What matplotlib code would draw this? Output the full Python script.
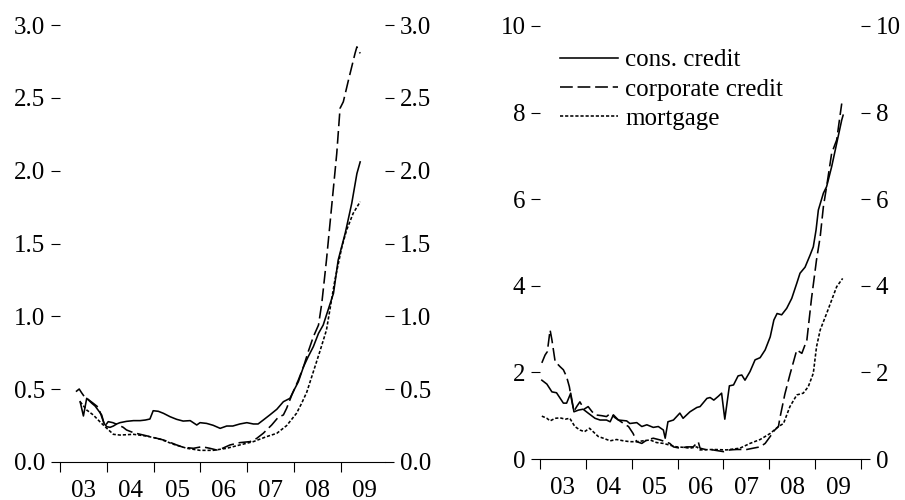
import numpy as np
import matplotlib
matplotlib.use("Agg")
import matplotlib.pyplot as plt
from matplotlib.ticker import FixedLocator, FixedFormatter

plt.rcParams['font.family'] = ['Liberation Serif', 'DejaVu Serif']
plt.rcParams['font.size'] = 18

# ---- left panel (fractional years, values) ----
cons_l_t = [2003.43, 2003.50, 2003.57, 2003.68, 2003.75, 2003.89, 2003.94, 2004.00, 2004.07, 2004.14,
            2004.21, 2004.28, 2004.42, 2004.57, 2004.71, 2004.82, 2004.92, 2004.99, 2005.10, 2005.21,
            2005.35, 2005.49, 2005.63, 2005.78, 2005.92, 2005.99, 2006.13, 2006.27, 2006.42, 2006.56,
            2006.69, 2006.84, 2006.99, 2007.13, 2007.23, 2007.34, 2007.48, 2007.63, 2007.77, 2007.91,
            2007.98, 2008.09, 2008.20, 2008.30, 2008.41, 2008.52, 2008.62, 2008.84, 2008.94, 2009.09,
            2009.23, 2009.34, 2009.41]
cons_l_v = [0.414, 0.316, 0.437, 0.403, 0.384, 0.323, 0.265, 0.242, 0.238, 0.247,
            0.261, 0.270, 0.279, 0.284, 0.284, 0.288, 0.295, 0.352, 0.348, 0.334,
            0.311, 0.293, 0.281, 0.284, 0.254, 0.270, 0.265, 0.252, 0.231, 0.247,
            0.247, 0.261, 0.270, 0.261, 0.261, 0.288, 0.323, 0.362, 0.414, 0.437,
            0.483, 0.551, 0.654, 0.723, 0.792, 0.883, 0.940, 1.158, 1.386, 1.570,
            1.776, 1.980, 2.060]

corp_l_t = [2003.34, 2003.41, 2003.46, 2003.53, 2003.60, 2003.71, 2003.82, 2003.89, 2003.96, 2004.03,
            2004.13, 2004.24, 2004.35, 2004.42, 2004.57, 2004.78, 2004.99, 2005.21, 2005.35, 2005.49,
            2005.63, 2005.85, 2006.03, 2006.20, 2006.35, 2006.42, 2006.63, 2006.84, 2007.06, 2007.20,
            2007.34, 2007.52, 2007.66, 2007.77, 2007.84, 2007.95, 2008.09, 2008.20, 2008.30, 2008.41,
            2008.52, 2008.59, 2008.69, 2008.80, 2008.91, 2008.98, 2009.05, 2009.16, 2009.30, 2009.34,
            2009.41]
corp_l_v = [0.483, 0.501, 0.476, 0.444, 0.430, 0.403, 0.375, 0.311, 0.247, 0.277,
            0.270, 0.255, 0.238, 0.220, 0.201, 0.185, 0.169, 0.151, 0.135, 0.117,
            0.101, 0.094, 0.105, 0.094, 0.082, 0.087, 0.117, 0.133, 0.140, 0.162,
            0.197, 0.254, 0.307, 0.323, 0.369, 0.460, 0.563, 0.654, 0.757, 0.860,
            0.940, 1.089, 1.386, 1.752, 2.119, 2.428, 2.473, 2.622, 2.805, 2.850,
            2.805]

mort_l_t = [2003.43, 2003.57, 2003.71, 2003.85, 2004.00, 2004.14, 2004.28, 2004.57, 2004.85, 2005.14,
            2005.42, 2005.71, 2005.99, 2006.27, 2006.56, 2006.84, 2007.13, 2007.41, 2007.63, 2007.84,
            2008.05, 2008.16, 2008.27, 2008.41, 2008.55, 2008.69, 2008.87, 2009.02, 2009.12, 2009.26,
            2009.41]
mort_l_v = [0.414, 0.357, 0.323, 0.277, 0.231, 0.190, 0.185, 0.190, 0.178, 0.157,
            0.122, 0.094, 0.080, 0.080, 0.094, 0.117, 0.140, 0.174, 0.197, 0.250,
            0.334, 0.403, 0.480, 0.620, 0.760, 0.906, 1.249, 1.478, 1.592, 1.707,
            1.787]

# ---- right panel ----
cons_r_t = [2003.04, 2003.15, 2003.26, 2003.36, 2003.51, 2003.58, 2003.67, 2003.74, 2003.84, 2003.94,
            2004.05, 2004.20, 2004.31, 2004.45, 2004.53, 2004.60, 2004.71, 2004.89, 2004.96, 2005.11,
            2005.22, 2005.33, 2005.47, 2005.58, 2005.69, 2005.73, 2005.79, 2005.91, 2006.05, 2006.12,
            2006.27, 2006.42, 2006.49, 2006.64, 2006.71, 2006.79, 2006.89, 2006.96, 2007.03, 2007.13,
            2007.22, 2007.32, 2007.40, 2007.47, 2007.58, 2007.69, 2007.80, 2007.91, 2008.02, 2008.10,
            2008.17, 2008.27, 2008.38, 2008.49, 2008.60, 2008.67, 2008.78, 2008.89, 2008.96, 2009.02,
            2009.07, 2009.18, 2009.25, 2009.36, 2009.47, 2009.58, 2009.61]
cons_r_v = [1.82, 1.73, 1.55, 1.53, 1.29, 1.29, 1.52, 1.09, 1.13, 1.15,
            1.06, 0.94, 0.90, 0.90, 0.86, 1.02, 0.90, 0.88, 0.82, 0.84,
            0.75, 0.79, 0.73, 0.75, 0.67, 0.48, 0.86, 0.90, 1.06, 0.94,
            1.09, 1.19, 1.21, 1.40, 1.42, 1.36, 1.45, 1.52, 0.92, 1.69,
            1.71, 1.92, 1.94, 1.82, 2.02, 2.29, 2.34, 2.52, 2.82, 3.21,
            3.36, 3.33, 3.48, 3.71, 4.06, 4.29, 4.43, 4.71, 4.90, 5.29,
            5.75, 6.14, 6.29, 6.75, 7.29, 7.83, 7.94]

corp_r_t = [2003.04, 2003.11, 2003.16, 2003.22, 2003.26, 2003.33, 2003.44, 2003.51, 2003.58, 2003.64,
            2003.69, 2003.74, 2003.80, 2003.87, 2003.96, 2004.05, 2004.13, 2004.20, 2004.35, 2004.45,
            2004.53, 2004.64, 2004.74, 2004.85, 2004.93, 2005.03, 2005.11, 2005.22, 2005.33, 2005.47,
            2005.62, 2005.73, 2005.83, 2005.91, 2006.05, 2006.20, 2006.34, 2006.45, 2006.49, 2006.64,
            2006.77, 2007.00, 2007.14, 2007.29, 2007.51, 2007.65, 2007.80, 2007.91, 2008.02, 2008.12,
            2008.20, 2008.23, 2008.34, 2008.45, 2008.60, 2008.71, 2008.82, 2008.92, 2009.03, 2009.11,
            2009.18, 2009.25, 2009.36, 2009.47, 2009.54, 2009.58]
corp_r_v = [2.22, 2.40, 2.48, 2.98, 2.75, 2.25, 2.13, 2.06, 1.90, 1.67,
            1.36, 1.10, 1.21, 1.32, 1.15, 1.21, 1.10, 1.02, 1.00, 0.98,
            1.05, 0.95, 0.88, 0.80, 0.75, 0.59, 0.40, 0.36, 0.44, 0.48,
            0.44, 0.40, 0.36, 0.28, 0.25, 0.28, 0.28, 0.40, 0.25, 0.21,
            0.21, 0.17, 0.21, 0.22, 0.22, 0.25, 0.28, 0.36, 0.52, 0.67,
            0.75, 0.94, 1.50, 1.95, 2.52, 2.44, 2.75, 3.70, 4.60, 5.13,
            5.83, 6.29, 7.06, 7.37, 7.91, 8.21]

mort_r_t = [2003.04, 2003.15, 2003.22, 2003.33, 2003.44, 2003.55, 2003.65, 2003.76, 2003.87, 2003.97,
            2004.08, 2004.16, 2004.27, 2004.38, 2004.53, 2004.67, 2004.82, 2004.96, 2005.11, 2005.25,
            2005.40, 2005.54, 2005.69, 2005.83, 2005.98, 2006.12, 2006.27, 2006.42, 2006.49, 2006.78,
            2007.07, 2007.36, 2007.58, 2007.80, 2008.02, 2008.20, 2008.31, 2008.45, 2008.60, 2008.74,
            2008.85, 2008.96, 2009.03, 2009.11, 2009.25, 2009.36, 2009.47, 2009.60]
mort_r_v = [0.99, 0.94, 0.88, 0.94, 0.95, 0.92, 0.94, 0.75, 0.67, 0.63,
            0.71, 0.63, 0.52, 0.48, 0.42, 0.45, 0.42, 0.40, 0.40, 0.42,
            0.44, 0.38, 0.36, 0.32, 0.28, 0.27, 0.25, 0.28, 0.21, 0.22,
            0.21, 0.25, 0.36, 0.45, 0.59, 0.75, 0.82, 1.21, 1.48, 1.52,
            1.67, 1.98, 2.59, 2.98, 3.36, 3.67, 3.98, 4.17]

years = list(range(2003, 2011))
year_labels = ["03", "04", "05", "06", "07", "08", "09"]
left_yticks = [0.0, 0.5, 1.0, 1.5, 2.0, 2.5, 3.0]
right_yticks = [0, 2, 4, 6, 8, 10]

LW = 1.15
CORP_DASH = (8, 3)
MORT_DASH = (2.0, 1.2)


def style_axis(ax, xlim, ylim, yticks, yfmt):
    for s in ("top", "left", "right"):
        ax.spines[s].set_visible(False)
    ax.spines["bottom"].set_linewidth(0.8)
    ax.set_xlim(*xlim)
    ax.set_ylim(*ylim)
    ax.xaxis.set_major_locator(FixedLocator([y for y in years if xlim[0] - 1e-6 <= y <= xlim[1] + 1e-6]))
    ax.xaxis.set_major_formatter(FixedFormatter([]))
    ax.xaxis.set_minor_locator(FixedLocator([y + 0.5 for y in years[:-1]]))
    ax.xaxis.set_minor_formatter(FixedFormatter(year_labels))
    ax.tick_params(axis="x", which="major", direction="out", length=7.2, width=0.8)
    ax.tick_params(axis="x", which="minor", length=0, pad=13, labelsize=18)
    ax.set_yticks(yticks)
    ax.set_yticklabels([yfmt.format(v) for v in yticks])
    ax.tick_params(axis="y", direction="out", left=True, right=True, labelleft=True,
                   labelright=True, length=6.5, width=0.8, pad=4, labelsize=18)


def draw(ax, series):
    ax.plot(series[0][0], series[0][1], color="black", lw=LW, label="cons. credit")
    ax.plot(series[1][0], series[1][1], color="black", lw=LW, dashes=CORP_DASH, label="corporate credit")
    ax.plot(series[2][0], series[2][1], color="black", lw=LW, dashes=MORT_DASH, label="mortgage")


fig = plt.figure(figsize=(9.05, 5.0), dpi=100)
ax1 = fig.add_axes([60 / 905, 38 / 500, 325 / 905, 437 / 500])
ax2 = fig.add_axes([540 / 905, 41 / 500, 321 / 905, 433 / 500])

draw(ax1, [(cons_l_t, cons_l_v), (corp_l_t, corp_l_v), (mort_l_t, mort_l_v)])
draw(ax2, [(cons_r_t, cons_r_v), (corp_r_t, corp_r_v), (mort_r_t, mort_r_v)])

style_axis(ax1, (2003.0, 2009.94), (0, 3.0), left_yticks, "{:.1f}")
style_axis(ax2, (2003.0, 2010.0), (0, 10), right_yticks, "{:d}")

ax2.legend(loc="upper left", bbox_to_anchor=(560 / 905, 1 - 49 / 500), bbox_transform=fig.transFigure,
           frameon=False, borderpad=0, borderaxespad=0, handlelength=2.3, handletextpad=0.3,
           labelspacing=0.27, fontsize=18)

fig.savefig("out.png", dpi=100)
